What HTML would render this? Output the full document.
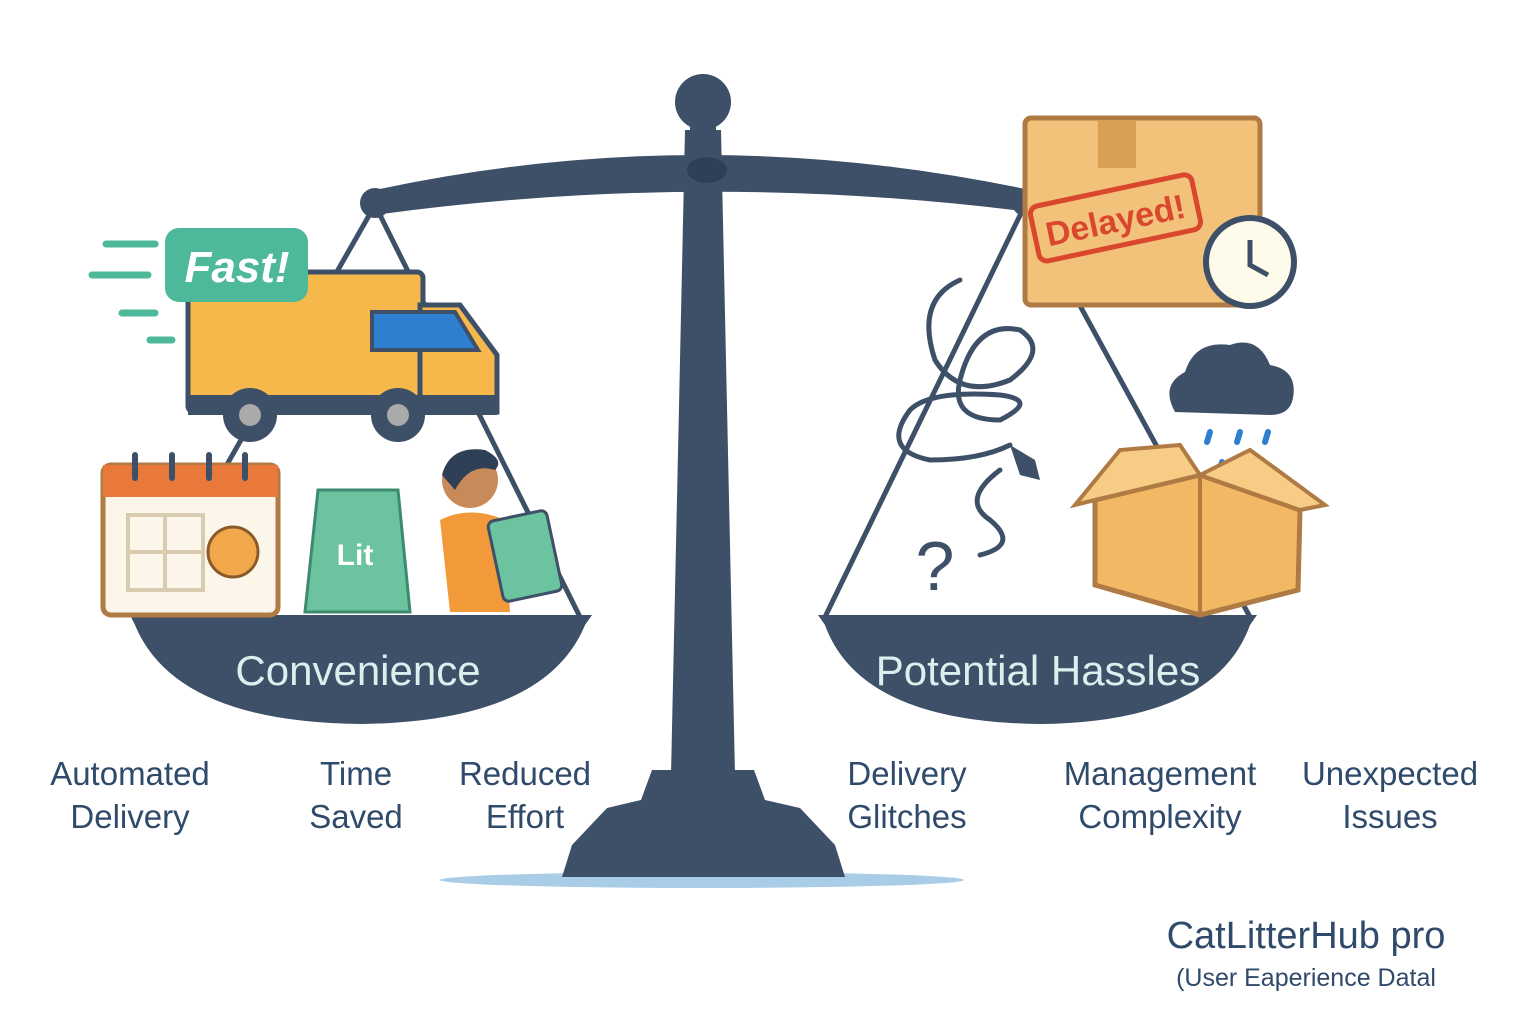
<!DOCTYPE html>
<html><head><meta charset="utf-8"><style>
html,body{margin:0;padding:0;background:#fff;width:1536px;height:1024px;overflow:hidden}
svg{display:block}
text{font-family:"Liberation Sans",sans-serif}
</style></head><body>
<svg width="1536" height="1024" viewBox="0 0 1536 1024" xmlns="http://www.w3.org/2000/svg">
<rect width="1536" height="1024" fill="#fff"/>
<!-- shadow -->
<ellipse cx="702" cy="880" rx="262" ry="8" fill="#a9cde6"/>
<!-- strings -->
<g stroke="#3d5068" stroke-width="5" fill="none">
<line x1="375" y1="205" x2="140" y2="617"/>
<line x1="375" y1="205" x2="580" y2="617"/>
<line x1="1025" y1="205" x2="825" y2="617"/>
<line x1="1025" y1="205" x2="1250" y2="617"/>
</g>
<!-- post -->
<path d="M685 130 L721 130 L735 775 L671 775 Z" fill="#3d5068"/>
<path d="M652 770 L754 770 L765 800 L800 808 L835 845 L845 877 L562 877 L572 845 L607 808 L641 800 Z" fill="#3d5068"/>
<!-- beam -->
<path d="M375 190 Q700 120 1030 190 L1030 212 Q700 170 375 215 Z" fill="#3d5068"/>
<circle cx="375" cy="203" r="15" fill="#3d5068"/>
<circle cx="1025" cy="203" r="13" fill="#3d5068"/>
<circle cx="703" cy="102" r="28" fill="#3d5068"/>
<rect x="690" y="120" width="26" height="20" fill="#3d5068"/>
<ellipse cx="707" cy="170" rx="20" ry="13" fill="#2f3f55"/>
<!-- pans -->
<path d="M130 615 L592 615 L585 625 Q545 722 360 724 Q175 722 135 625 Z" fill="#3d5068"/>
<path d="M818 615 L1257 615 L1250 625 Q1215 722 1040 724 Q860 722 825 625 Z" fill="#3d5068"/>
<text x="358" y="685" font-size="42" fill="#dcefef" text-anchor="middle">Convenience</text>
<text x="1038" y="685" font-size="42" fill="#dcefef" text-anchor="middle">Potential Hassles</text>
<!-- speed lines -->
<g stroke="#4db89a" stroke-width="7" stroke-linecap="round">
<line x1="106" y1="244" x2="155" y2="244"/><line x1="92" y1="275" x2="148" y2="275"/>
<line x1="122" y1="313" x2="155" y2="313"/><line x1="150" y1="340" x2="172" y2="340"/>
</g>
<!-- truck -->
<rect x="188" y="272" width="235" height="140" rx="6" fill="#f6b84a" stroke="#3d5068" stroke-width="5"/>
<path d="M420 305 L460 305 L497 355 L497 412 L420 412 Z" fill="#f6b84a" stroke="#3d5068" stroke-width="5"/>
<path d="M372 312 L455 312 L478 350 L372 350 Z" fill="#2f7fd0" stroke="#3d5068" stroke-width="4"/>
<rect x="188" y="395" width="309" height="20" fill="#3d5068"/>
<circle cx="250" cy="415" r="27" fill="#3d5068"/><circle cx="250" cy="415" r="11" fill="#aaa"/>
<circle cx="398" cy="415" r="27" fill="#3d5068"/><circle cx="398" cy="415" r="11" fill="#aaa"/>
<rect x="165" y="228" width="143" height="74" rx="14" fill="#4db89a"/>
<text x="237" y="282" font-size="44" font-style="italic" font-weight="bold" fill="#fff" text-anchor="middle">Fast!</text>
<!-- calendar -->
<rect x="103" y="465" width="175" height="150" rx="8" fill="#fbf6e9" stroke="#b07a45" stroke-width="5"/>
<rect x="103" y="465" width="175" height="32" fill="#e8793a"/>
<g stroke="#3d5068" stroke-width="6" stroke-linecap="round"><line x1="135" y1="455" x2="135" y2="478"/><line x1="172" y1="455" x2="172" y2="478"/><line x1="209" y1="455" x2="209" y2="478"/><line x1="245" y1="455" x2="245" y2="478"/></g>
<g stroke="#d8cbb0" stroke-width="4" fill="none"><rect x="128" y="515" width="75" height="75"/><line x1="165" y1="515" x2="165" y2="590"/><line x1="128" y1="552" x2="203" y2="552"/></g>
<circle cx="233" cy="552" r="25" fill="#f2a84a" stroke="#8a5a2a" stroke-width="3"/>
<!-- bag -->
<path d="M318 490 L398 490 L410 612 L305 612 Z" fill="#6cc3a0" stroke="#3d8a70" stroke-width="3"/>
<text x="355" y="565" font-size="30" fill="#fff" text-anchor="middle" font-weight="bold">Lit</text>
<!-- person -->
<circle cx="470" cy="480" r="28" fill="#c98a5a"/>
<path d="M442 475 Q450 445 485 450 Q505 460 495 470 Q470 462 455 490 Z" fill="#2f3f55"/>
<path d="M440 520 Q470 505 505 520 L510 612 L450 612 Z" fill="#f29a3a"/>
<rect x="495" y="515" width="60" height="82" rx="6" fill="#6cc3a0" stroke="#3d5068" stroke-width="3" transform="rotate(-12 525 556)"/>
<!-- right: delayed box -->
<rect x="1025" y="118" width="235" height="187" rx="6" fill="#f3c27a" stroke="#b07a45" stroke-width="5"/>
<rect x="1098" y="120" width="38" height="48" fill="#d8a055"/>
<g transform="rotate(-12 1115 218)">
<rect x="1033" y="190" width="165" height="56" rx="8" fill="none" stroke="#d9482e" stroke-width="5"/>
<text x="1115" y="232" font-size="34" font-weight="bold" fill="#d9482e" text-anchor="middle">Delayed!</text>
</g>
<circle cx="1250" cy="262" r="44" fill="#fffbea" stroke="#3d5068" stroke-width="6"/>
<path d="M1250 240 L1250 265 L1268 275" stroke="#3d5068" stroke-width="5" fill="none"/>
<!-- cloud -->
<path d="M1175 412 Q1160 385 1185 372 Q1195 340 1230 345 Q1258 335 1270 365 Q1298 370 1293 398 Q1290 415 1270 415 Z" fill="#3d5068"/>
<g stroke="#2f7fd0" stroke-width="6" stroke-linecap="round"><line x1="1210" y1="432" x2="1207" y2="442"/><line x1="1240" y1="432" x2="1237" y2="442"/><line x1="1268" y1="432" x2="1265" y2="442"/><line x1="1222" y1="462" x2="1219" y2="472"/></g>
<!-- open box -->
<path d="M1095 500 L1200 475 L1300 510 L1298 590 L1200 615 L1095 585 Z" fill="#f3b864" stroke="#b07a45" stroke-width="5"/>
<path d="M1095 500 L1075 505 L1120 450 L1180 445 L1200 475 Z" fill="#f7cc85" stroke="#b07a45" stroke-width="4"/>
<path d="M1200 475 L1250 450 L1325 505 L1300 510 Z" fill="#f7cc85" stroke="#b07a45" stroke-width="4"/>
<line x1="1200" y1="475" x2="1200" y2="615" stroke="#b07a45" stroke-width="4"/>
<!-- tangled cord -->
<g stroke="#3d5068" stroke-width="5" fill="none" stroke-linecap="round">
<path d="M1000 470 Q960 500 990 520 Q1020 545 980 555"/>
<path d="M960 280 Q915 300 935 360 Q960 400 1010 380 Q1050 350 1020 330 Q975 320 960 380 Q950 420 1000 420 Q1040 400 1000 395 Q930 390 910 410 Q880 450 930 460 Q980 460 1010 445"/>
</g>
<path d="M1010 445 L1035 460 L1040 480 L1020 475 Z" fill="#3d5068"/>
<text x="935" y="590" font-size="70" fill="#3d5068" text-anchor="middle">?</text>
<!-- labels -->
<g font-size="33" fill="#2f4a6a" text-anchor="middle">
<text x="130" y="785">Automated</text><text x="130" y="828">Delivery</text>
<text x="356" y="785">Time</text><text x="356" y="828">Saved</text>
<text x="525" y="785">Reduced</text><text x="525" y="828">Effort</text>
<text x="907" y="785">Delivery</text><text x="907" y="828">Glitches</text>
<text x="1160" y="785">Management</text><text x="1160" y="828">Complexity</text>
<text x="1390" y="785">Unexpected</text><text x="1390" y="828">Issues</text>
</g>
<text x="1306" y="948" font-size="38" fill="#2f4a6a" text-anchor="middle">CatLitterHub pro</text>
<text x="1306" y="986" font-size="25" fill="#2f4a6a" text-anchor="middle">(User Eaperience Datal</text>
</svg>
</body></html>
